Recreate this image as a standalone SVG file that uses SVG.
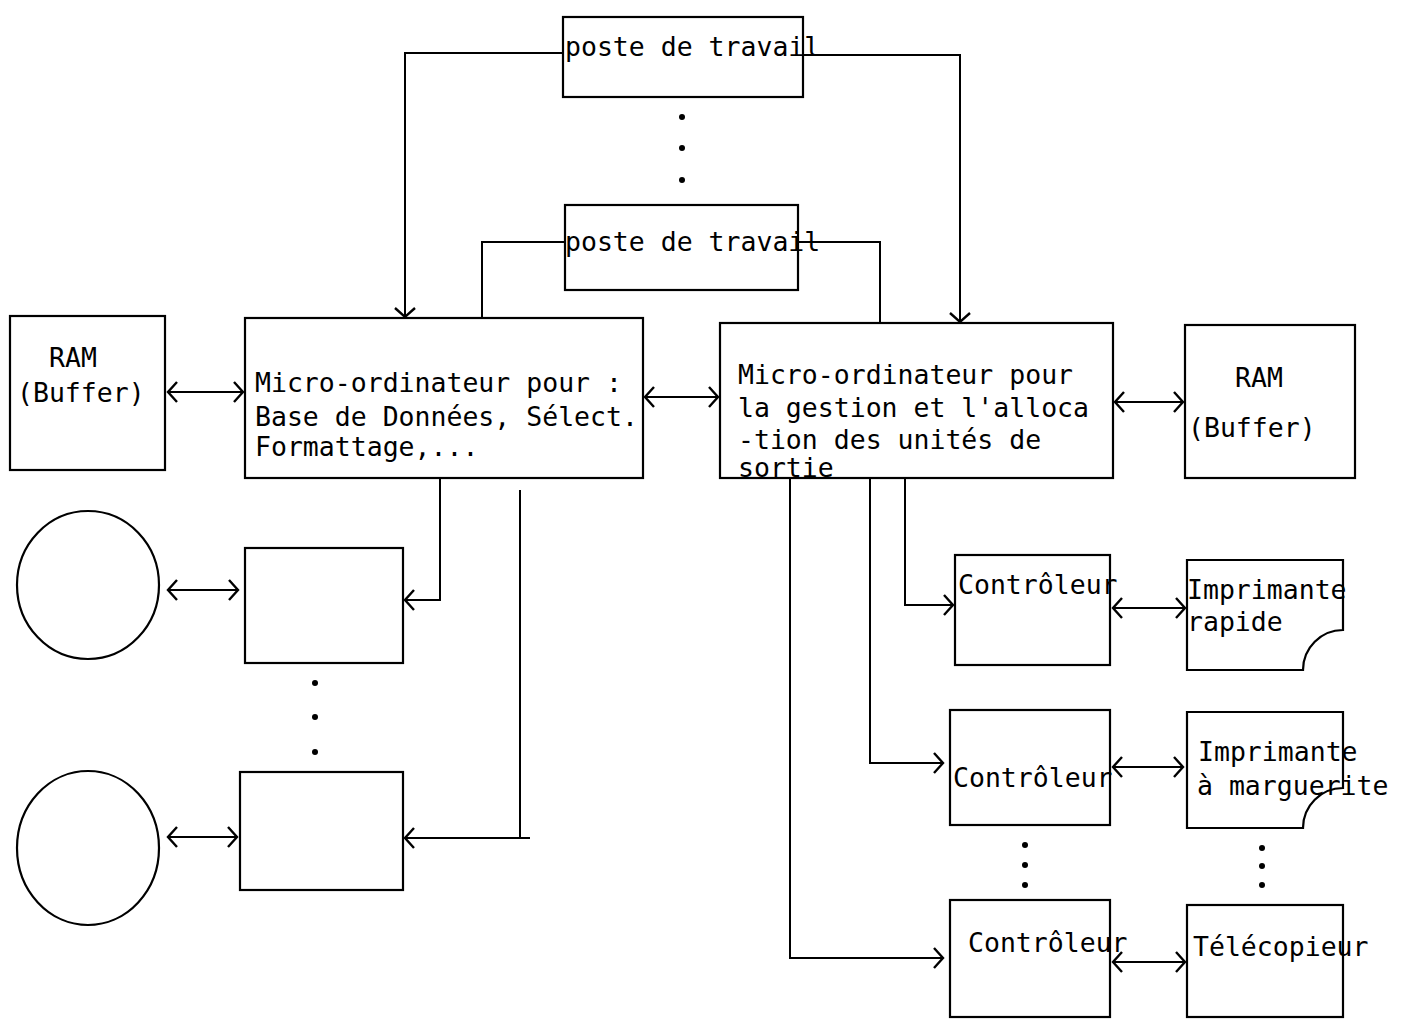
<svg xmlns="http://www.w3.org/2000/svg" width="1403" height="1019" viewBox="0 0 1403 1019">
<style>
.b{fill:none;stroke:#000;stroke-width:2.2}
.c{fill:none;stroke:#000;stroke-width:2}
.t{font-family:"DejaVu Sans Mono","Liberation Mono",monospace;font-size:26.5px;fill:#000}
.d{fill:#000}
</style>
<defs>
<marker id="a" markerUnits="userSpaceOnUse" markerWidth="20" markerHeight="24" viewBox="-12 -12 14 24" refX="0" refY="0" orient="auto-start-reverse">
<path d="M-9,-10 L0,0 L-9,10" fill="none" stroke="#000" stroke-width="2.4"/>
</marker>
</defs>
<rect width="1403" height="1019" fill="#fff"/>
<g id="poste1"><rect class="b" x="563" y="17" width="240" height="80"/><text class="t" x="565" y="56">poste de travail</text></g>
<g id="poste2"><rect class="b" x="565" y="205" width="233" height="85"/><text class="t" x="565" y="251">poste de travail</text></g>
<g id="ram1"><rect class="b" x="10" y="316" width="155" height="154"/><text class="t" x="73" y="367" text-anchor="middle">RAM</text><text class="t" x="17" y="402">(Buffer)</text></g>
<g id="micro1"><rect class="b" x="245" y="318" width="398" height="160"/><text class="t" x="255" y="392">Micro-ordinateur pour :</text><text class="t" x="255" y="426">Base de Données, Sélect.</text><text class="t" x="255" y="456">Formattage,...</text></g>
<g id="micro2"><rect class="b" x="720" y="323" width="393" height="155"/><text class="t" x="738" y="384">Micro-ordinateur pour</text><text class="t" x="738" y="417">la gestion et l'alloca</text><text class="t" x="738" y="449">-tion des unités de</text><text class="t" x="738" y="477">sortie</text></g>
<g id="ram2"><rect class="b" x="1185" y="325" width="170" height="153"/><text class="t" x="1259" y="387" text-anchor="middle">RAM</text><text class="t" x="1188" y="437">(Buffer)</text></g>
<g id="disk1"><ellipse class="b" cx="88" cy="585" rx="71" ry="74"/></g>
<g id="disk2"><ellipse class="b" cx="88" cy="848" rx="71" ry="77"/></g>
<g id="ctrlA"><rect class="b" x="245" y="548" width="158" height="115"/></g>
<g id="ctrlB"><rect class="b" x="240" y="772" width="163" height="118"/></g>
<g id="dotsL"><circle class="d" cx="315" cy="683" r="3"/><circle class="d" cx="315" cy="717" r="3"/><circle class="d" cx="315" cy="752" r="3"/></g>
<g id="dotsT"><circle class="d" cx="682" cy="117" r="3"/><circle class="d" cx="682" cy="148" r="3"/><circle class="d" cx="682" cy="180" r="3"/></g>
<g id="ctrl1"><rect class="b" x="955" y="555" width="155" height="110"/><text class="t" x="958" y="594">Contrôleur</text></g>
<g id="ctrl2"><rect class="b" x="950" y="710" width="160" height="115"/><text class="t" x="953" y="787">Contrôleur</text></g>
<g id="ctrl3"><rect class="b" x="950" y="900" width="160" height="117"/><text class="t" x="968" y="952">Contrôleur</text></g>
<g id="print1"><path class="b" d="M1187,560 H1343 V630 A40,40 0 0 0 1303,670 H1187 Z"/><text class="t" x="1187" y="599">Imprimante</text><text class="t" x="1187" y="631">rapide</text></g>
<g id="print2"><path class="b" d="M1187,712 H1343 V788 A40,40 0 0 0 1303,828 H1187 Z"/><text class="t" x="1198" y="761">Imprimante</text><text class="t" x="1197" y="795">à marguerite</text></g>
<g id="fax"><rect class="b" x="1187" y="905" width="156" height="112"/><text class="t" x="1193" y="956">Télécopieur</text></g>
<g id="dotsR"><circle class="d" cx="1025" cy="845" r="3"/><circle class="d" cx="1025" cy="865" r="3"/><circle class="d" cx="1025" cy="885" r="3"/><circle class="d" cx="1262" cy="848" r="3"/><circle class="d" cx="1262" cy="866" r="3"/><circle class="d" cx="1262" cy="885" r="3"/></g>
<g id="connectors">
<path class="c" d="M563,53 H405 V317" marker-end="url(#a)"/>
<path class="c" d="M803,55 H960 V322" marker-end="url(#a)"/>
<path class="c" d="M565,242 H482 V318"/>
<path class="c" d="M798,242 H880 V323"/>
<path class="c" d="M168,392 H243" marker-start="url(#a)" marker-end="url(#a)"/>
<path class="c" d="M645,397 H718" marker-start="url(#a)" marker-end="url(#a)"/>
<path class="c" d="M1115,402 H1183" marker-start="url(#a)" marker-end="url(#a)"/>
<path class="c" d="M168,590 H238" marker-start="url(#a)" marker-end="url(#a)"/>
<path class="c" d="M168,837 H237" stroke-width="3" marker-start="url(#a)" marker-end="url(#a)"/>
<path class="c" d="M440,478 V600 H405" marker-end="url(#a)"/>
<path class="c" d="M530,838 H520"/>
<path class="c" d="M520,490 V838 H405" marker-end="url(#a)"/>
<path class="c" d="M905,478 V605 H953" marker-end="url(#a)"/>
<path class="c" d="M870,478 V763 H943" marker-end="url(#a)"/>
<path class="c" d="M790,478 V958 H943" marker-end="url(#a)"/>
<path class="c" d="M1113,608 H1185" marker-start="url(#a)" marker-end="url(#a)"/>
<path class="c" d="M1113,767 H1183" marker-start="url(#a)" marker-end="url(#a)"/>
<path class="c" d="M1113,962 H1185" marker-start="url(#a)" marker-end="url(#a)"/>
</g>
</svg>
